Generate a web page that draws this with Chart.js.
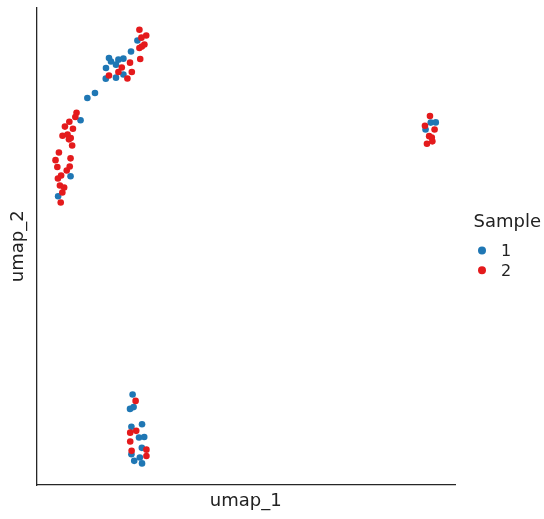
<!DOCTYPE html>
<html>
<head>
<meta charset="utf-8">
<script src="https://cdn.jsdelivr.net/npm/chart.js@4"></script>
<style>
  html, body { margin: 0; padding: 0; background: #fff; }
  #wrap { width: 544px; height: 519px; }
</style>
</head>
<body>
<div id="wrap"><canvas id="umap" width="544" height="519"></canvas></div>
<script>
// UMAP coordinates
const sample1X = [0.04, -0.28, -1.38, -1.28, -0.91, -0.66, -1.03, -1.53, -1.54, -1.03, -0.66, -2.08, -2.46,
  -2.8, -3.3, -3.92,
  14.69, 14.94, 14.43,
  -0.2, -0.33, -0.15, -0.26, 0.27, 0.12, 0.38, 0.26, -0.26, 0.16, -0.12, 0.27];
const sample1Y = [10.25, 9.7, 9.37, 9.2, 9.29, 9.34, 9.04, 8.87, 8.34, 8.39, 8.55, 7.62, 7.37,
  6.26, 3.45, 2.45,
  6.14, 6.15, 5.79,
  -7.47, -8.19, -8.1, -9.09, -8.96, -9.62, -9.6, -10.14, -10.46, -10.62, -10.79, -10.92];

const sample2X = [0.14, 0.48, 0.24, 0.39, 0.26, 0.14, 0.18, -0.33, -0.74, -0.91, -0.24, -1.38, -0.46,
  -3.0, -3.06, -3.36, -3.58, -3.18, -3.7, -3.45, -3.29, -3.38, -3.22, -3.88, -3.3, -4.05, -3.96, -3.34,
  -3.49, -3.77, -3.93, -3.83, -3.62, -3.71, -3.79,
  14.65, 14.4, 14.88, 14.61, 14.74, 14.77, 14.5,
  -0.05, -0.32, -0.02, -0.32, 0.49, -0.25, 0.49];
const sample2Y = [10.79, 10.5, 10.39, 10.05, 9.95, 9.87, 9.32, 9.14, 8.9, 8.67, 8.67, 8.5, 8.35,
  6.63, 6.42, 6.18, 5.94, 5.83, 5.48, 5.54, 5.37, 5.3, 4.99, 4.64, 4.35, 4.26, 3.92, 3.94,
  3.74, 3.49, 3.34, 2.99, 2.89, 2.64, 2.14,
  6.47, 5.98, 5.79, 5.46, 5.39, 5.2, 5.08,
  -7.79, -9.38, -9.29, -9.82, -10.23, -10.29, -10.55];

const sampleNames = ["1", "2"];
const sampleColors = ["#1f77b4", "#e41a1c"];

const toPoints = (xs, ys) => xs.map((x, i) => ({ x: x, y: ys[i] }));

// simple legend drawn to the right of the plot, like the seaborn one
const sampleLegend = {
  id: "sampleLegend",
  afterDraw(chart) {
    const ctx = chart.ctx;
    ctx.save();
    ctx.fillStyle = "#222";
    ctx.textBaseline = "alphabetic";
    ctx.textAlign = "left";
    ctx.font = "18px 'DejaVu Sans'";
    ctx.fillText("Sample", 473.5, 227);
    ctx.font = "16px 'DejaVu Sans'";
    chart.data.datasets.forEach((ds, i) => {
      const cy = 250.5 + i * 19.8;
      ctx.beginPath();
      ctx.arc(482, cy, 4, 0, Math.PI * 2);
      ctx.fillStyle = ds.backgroundColor;
      ctx.fill();
      ctx.fillStyle = "#222";
      ctx.fillText(ds.label, 501, cy + 5.5);
    });
    ctx.restore();
  }
};

new Chart(document.getElementById("umap"), {
  type: "scatter",
  data: {
    datasets: [
      {
        label: sampleNames[0],
        data: toPoints(sample1X, sample1Y),
        backgroundColor: sampleColors[0],
        borderWidth: 0,
        pointRadius: 3.3,
        order: 1
      },
      {
        label: sampleNames[1],
        data: toPoints(sample2X, sample2Y),
        backgroundColor: sampleColors[1],
        borderWidth: 0,
        pointRadius: 3.3,
        order: 0
      }
    ]
  },
  options: {
    responsive: false,
    animation: false,
    layout: { padding: { top: 7.5, right: 89, bottom: 0, left: 0 } },
    plugins: {
      legend: { display: false },
      tooltip: { enabled: false }
    },
    scales: {
      x: {
        min: -5,
        max: 15.9,
        ticks: { display: false },
        grid: { display: false, drawTicks: false },
        border: { display: true, color: "#262626", width: 1.3 },
        title: {
          display: true,
          text: "umap_1",
          color: "#222",
          font: { family: "DejaVu Sans", size: 18 },
          padding: { top: 5.7, bottom: 6.7 }
        }
      },
      y: {
        min: -12,
        max: 11.9,
        ticks: { display: false },
        grid: { display: false, drawTicks: false },
        border: { display: true, color: "#262626", width: 1.3 },
        title: {
          display: true,
          text: "umap_2",
          color: "#222",
          font: { family: "DejaVu Sans", size: 18 },
          padding: { top: 7.2, bottom: 7.7 }
        }
      }
    }
  },
  plugins: [sampleLegend]
});
</script>
</body>
</html>
